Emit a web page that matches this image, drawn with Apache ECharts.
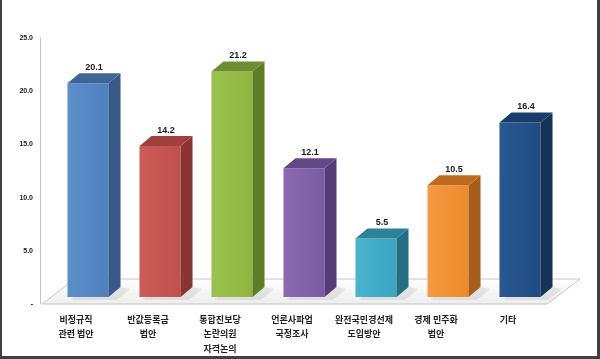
<!DOCTYPE html>
<html>
<head>
<meta charset="utf-8">
<script src="https://cdn.jsdelivr.net/npm/echarts@6/dist/echarts.min.js"></script>
<style>html,body{margin:0;padding:0;background:#fff;}#c{width:600px;height:359px;}</style>
</head>
<body>
<div id="c"></div>
<script>
const categories = ['비정규직\n관련 법안', '반값등록금\n법안', '통합진보당\n논란의원\n자격논의', '언론사파업\n국정조사', '완전국민경선제\n도입방안', '경제 민주화\n법안', '기타'];
const values = [20.1, 14.2, 21.2, 12.1, 5.5, 10.5, 16.4];
const yTicks = [0, 5, 10, 15, 20, 25];
const frontColors = ['#4F81BD', '#C0504D', '#8DB53F', '#7A5AA0', '#3AA5C0', '#EB8A2C', '#1F4A82'];
const lightColors = ['#5C8ECB', '#CC5C58', '#9CC24E', '#8A6AB0', '#4AB4CF', '#F59A40', '#2A5892'];
const sideColors = ['#37598A', '#8A3533', '#5E7D27', '#553C78', '#236E85', '#A85E1A', '#14325A'];
const topColors = ['#3F6597', '#A2403D', '#6D8F2F', '#634787', '#2C8299', '#BE6B20', '#183C6C'];

const chart = echarts.init(document.getElementById('c'));
const DX = 12, DY = 10, OX = 12, OY = 7;

function renderBar(params, api) {
  const i = api.value(0);
  const base = api.coord([i, 0]);
  const top = api.coord([i, api.value(1)]);
  const w = api.size([1, 0])[0] * 0.57;
  const x0 = base[0] - w / 2 + OX, x1 = x0 + w;
  const yT = top[1] - OY, yB = base[1] - OY;
  return {
    type: 'group',
    children: [
      { type: 'polygon', shape: { points: [[x0 + 6, yB], [x1 + DX, yB - DY], [x1 + DX + 10, yB - DY + 2], [x1 + 8, yB + 3], [x0 + 4, yB + 3]] },
        style: { fill: 'rgba(0,0,0,0.07)', shadowBlur: 4, shadowColor: 'rgba(0,0,0,0.12)' } },
      { type: 'rect', shape: { x: x0, y: yT, width: w, height: yB - yT },
        style: { fill: new echarts.graphic.LinearGradient(0, 0, 1, 0, [{ offset: 0, color: lightColors[i] }, { offset: 1, color: frontColors[i] }]) } },
      { type: 'polygon', shape: { points: [[x1, yT], [x1 + DX, yT - DY], [x1 + DX, yB - DY], [x1, yB]] },
        style: { fill: sideColors[i] } },
      { type: 'polygon', shape: { points: [[x0, yT], [x0 + DX, yT - DY], [x1 + DX, yT - DY], [x1, yT]] },
        style: { fill: topColors[i] } },
      { type: 'text', style: { x: x0 + w / 2 + 6, y: yT - DY - 1, text: values[i].toFixed(1), align: 'center', verticalAlign: 'bottom',
        font: 'bold 9px "Liberation Sans", Arial, sans-serif', fill: '#1a1a1a' } }
    ]
  };
}

function renderFloor(params, api) {
  const cs = params.coordSys;
  const yF = cs.y + cs.height;
  const xl = cs.x + 2, xr = cs.x + cs.width + 3;
  const d = 33, h = 25;
  return {
    type: 'group',
    children: [
      { type: 'polygon', shape: { points: [[xl, yF], [xl + d, yF - h], [xr + d, yF - h], [xr, yF]] },
        style: { fill: new echarts.graphic.LinearGradient(0, 0, 0, 1, [{ offset: 0, color: '#ffffff' }, { offset: 1, color: '#eeeeee' }]), stroke: '#c6c6c6', lineWidth: 1 } }
    ]
  };
}

chart.setOption({
  animation: false,
  backgroundColor: '#fff',
  grid: { left: 40, right: 56, top: 38, bottom: 55 },
  xAxis: {
    type: 'category', data: categories,
    axisLine: { show: false }, axisTick: { show: false },
    axisLabel: { interval: 0, margin: 8, fontSize: 9, fontWeight: 'bold', lineHeight: 14.5, color: '#222',
      fontFamily: '"Noto Sans CJK KR", sans-serif' }
  },
  yAxis: {
    type: 'value', min: yTicks[0], max: yTicks[yTicks.length - 1], interval: 5,
    axisLine: { show: true, lineStyle: { color: '#c4c4c4' } }, axisTick: { show: false },
    splitLine: { show: false },
    axisLabel: { margin: 7, fontSize: 7, fontWeight: 'bold', color: '#222', fontFamily: '"Liberation Sans", Arial, sans-serif',
      formatter: v => v === 0 ? '-' : v.toFixed(1) }
  },
  series: [
    { type: 'custom', renderItem: renderFloor, data: [[0]], z: 1, silent: true },
    { type: 'custom', renderItem: renderBar, data: values.map((v, i) => [i, v]), z: 2,
      encode: { x: 0, y: 1 } }
  ],
  graphic: [
    { type: 'rect', shape: { x: 0, y: 0, width: 2, height: 359 }, style: { fill: '#404040' } },
    { type: 'rect', shape: { x: 0, y: 356, width: 600, height: 3 }, style: { fill: '#404040' } },
    { type: 'rect', shape: { x: 597, y: 0, width: 3, height: 359 }, style: { fill: '#404040' } }
  ]
});
</script>
</body>
</html>
